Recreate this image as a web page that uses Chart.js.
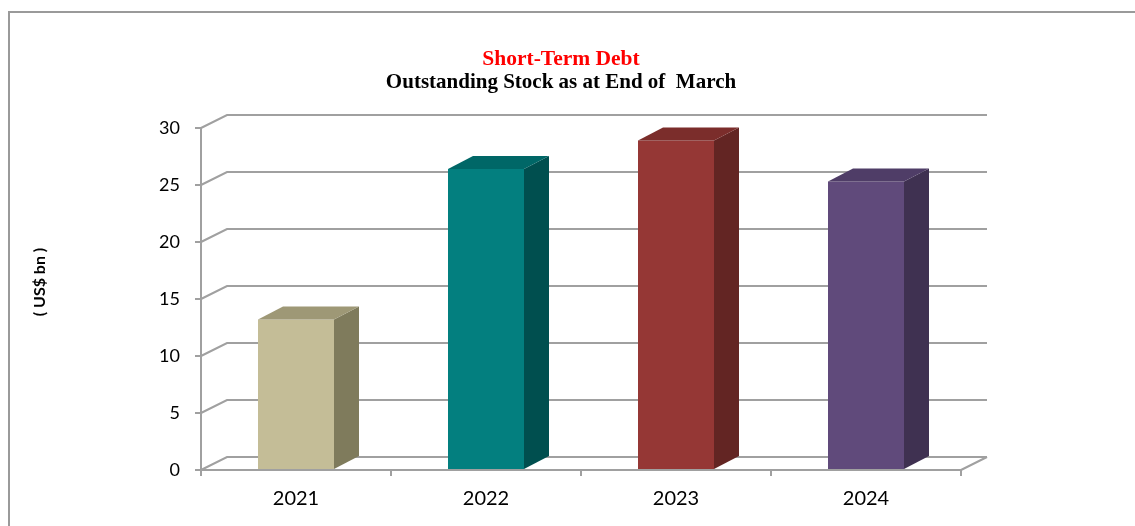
<!DOCTYPE html>
<html>
<head>
<meta charset="utf-8">
<script src="https://cdn.jsdelivr.net/npm/chart.js@4.4.1/dist/chart.umd.min.js"></script>
<style>
  html, body { margin: 0; padding: 0; background: #ffffff; }
  #wrap { position: relative; width: 1135px; height: 526px; }
</style>
</head>
<body>
<div id="wrap"><canvas id="debtChart" width="1135" height="526"></canvas></div>
<script>
// Outstanding short-term debt at end of March (US$ bn)
const years = ['2021', '2022', '2023', '2024'];
const debtValues = [13.2, 26.4, 28.9, 25.3];
const yTicks = [0, 5, 10, 15, 20, 25, 30];
const yTitle = '( US$ bn )';

// Face colours for each bar: front, side, top
const frontColors = ['#C4BD97', '#037F7F', '#953735', '#604A7B'];
const sideColors  = ['#7F7B5C', '#004F4F', '#632523', '#3F3151'];
const topColors   = ['#9E9876', '#006767', '#7B2D2B', '#4F3D67'];

const GRID = '#A0A0A0';
const WALL_DX = 26, WALL_DY = -13;   // depth of the back wall
const BAR_DX = 25, BAR_DY = -13;     // depth of each column

// Draws the frame, the back-wall gridlines, the 3D faces of the columns
// and the rotated value-axis caption
const depthPlugin = {
  id: 'depthPlugin',
  beforeDraw(chart) {
    const ctx = chart.ctx;
    ctx.save();
    ctx.strokeStyle = '#9A9A9A';
    ctx.lineWidth = 2;
    ctx.beginPath();
    ctx.moveTo(1135, 12);
    ctx.lineTo(9, 12);
    ctx.lineTo(9, 526);
    ctx.stroke();
    ctx.restore();
  },
  beforeDatasetsDraw(chart) {
    const ctx = chart.ctx;
    const area = chart.chartArea;
    const y = chart.scales.y;
    ctx.save();
    ctx.strokeStyle = GRID;
    ctx.lineWidth = 2;
    yTicks.forEach(v => {
      const py = y.getPixelForValue(v);
      ctx.beginPath();
      ctx.moveTo(area.left, py);
      ctx.lineTo(area.left + WALL_DX, py + WALL_DY);
      ctx.lineTo(area.right + WALL_DX, py + WALL_DY);
      ctx.stroke();
    });
    // right edge of the floor
    const py0 = y.getPixelForValue(0);
    ctx.beginPath();
    ctx.moveTo(area.right, py0);
    ctx.lineTo(area.right + WALL_DX, py0 + WALL_DY);
    ctx.stroke();
    ctx.restore();
  },
  afterDatasetsDraw(chart) {
    const ctx = chart.ctx;
    const meta = chart.getDatasetMeta(0);
    ctx.save();
    meta.data.forEach((bar, i) => {
      const left = bar.x - bar.width / 2;
      const right = bar.x + bar.width / 2;
      const top = bar.y;
      const base = bar.base;
      // side face
      ctx.fillStyle = sideColors[i];
      ctx.beginPath();
      ctx.moveTo(right, top);
      ctx.lineTo(right + BAR_DX, top + BAR_DY);
      ctx.lineTo(right + BAR_DX, base + BAR_DY);
      ctx.lineTo(right, base);
      ctx.closePath();
      ctx.fill();
      // top face
      ctx.fillStyle = topColors[i];
      ctx.beginPath();
      ctx.moveTo(left, top);
      ctx.lineTo(left + BAR_DX, top + BAR_DY);
      ctx.lineTo(right + BAR_DX, top + BAR_DY);
      ctx.lineTo(right, top);
      ctx.closePath();
      ctx.fill();
    });
    ctx.restore();
  },
  afterDraw(chart) {
    const ctx = chart.ctx;
    ctx.save();
    ctx.translate(40, 282);
    ctx.rotate(-Math.PI / 2);
    ctx.fillStyle = '#000000';
    ctx.font = 'bold 16px Lato, "Open Sans", sans-serif';
    ctx.textAlign = 'center';
    ctx.textBaseline = 'middle';
    ctx.fillText(yTitle, 0, 0);
    ctx.restore();
  }
};

new Chart(document.getElementById('debtChart'), {
  type: 'bar',
  data: {
    labels: years,
    datasets: [{
      label: 'Short-Term Debt',
      data: debtValues,
      backgroundColor: frontColors,
      borderWidth: 0,
      barPercentage: 0.4,
      categoryPercentage: 1.0
    }]
  },
  options: {
    responsive: false,
    animation: false,
    events: [],
    layout: { padding: { left: 0, right: 13, top: 0, bottom: 0 } },
    plugins: {
      legend: { display: false },
      tooltip: { enabled: false },
      title: {
        display: true,
        text: 'Short-Term Debt',
        color: '#FF0000',
        font: { family: '"Liberation Serif", "Times New Roman", serif', size: 21.5, weight: 'bold', lineHeight: 1.0 },
        padding: { top: 48.25, bottom: 0 }
      },
      subtitle: {
        display: true,
        text: 'Outstanding Stock as at End of  March',
        color: '#000000',
        font: { family: '"Liberation Serif", "Times New Roman", serif', size: 21, weight: 'bold', lineHeight: 1.0 },
        padding: { top: 2.75, bottom: 34.5 }
      }
    },
    scales: {
      x: {
        grid: {
          display: true,
          offset: true,
          drawOnChartArea: false,
          drawTicks: true,
          tickLength: 6,
          color: GRID,
          lineWidth: 2
        },
        border: { display: true, color: GRID, width: 2 },
        ticks: {
          color: '#000000',
          font: { family: 'Lato, "Open Sans", sans-serif', size: 20 },
          padding: 11
        },
        afterFit(scale) { scale.height = 56; }
      },
      y: {
        min: 0,
        max: 30,
        afterBuildTicks(scale) { scale.ticks = yTicks.map(v => ({ value: v })); },
        grid: {
          display: true,
          drawOnChartArea: false,
          drawTicks: true,
          tickLength: 6,
          color: GRID,
          lineWidth: 2
        },
        border: { display: true, color: GRID, width: 2 },
        ticks: {
          color: '#000000',
          font: { family: 'Lato, "Open Sans", sans-serif', size: 18 },
          padding: 15
        },
        afterFit(scale) { scale.width = 201; }
      },
      // empty box that reserves the space to the right of the plot
      yRight: {
        position: 'right',
        display: true,
        grid: { display: false },
        border: { display: false },
        ticks: { display: false },
        afterFit(scale) { scale.width = 161; }
      }
    }
  },
  plugins: [depthPlugin]
});
</script>
</body>
</html>
